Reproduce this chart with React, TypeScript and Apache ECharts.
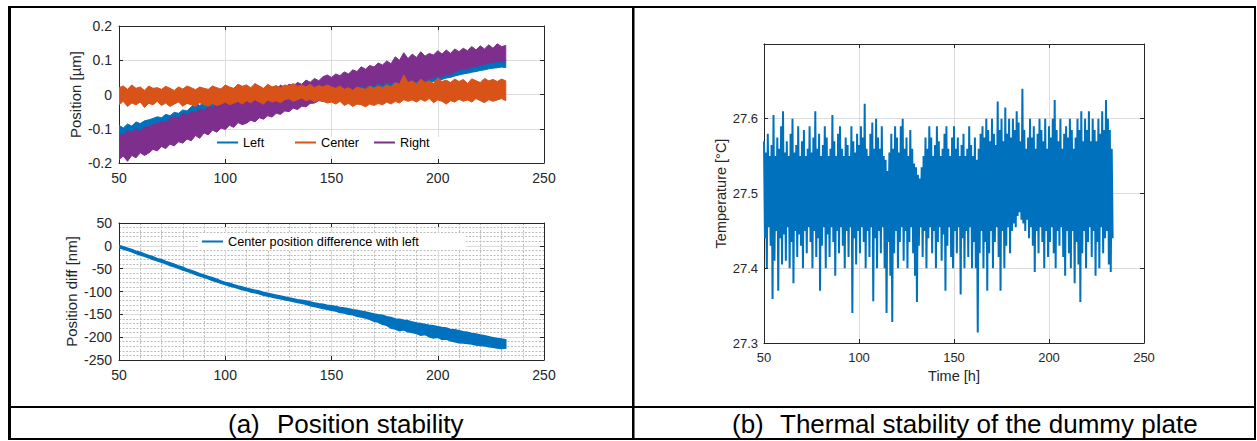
import React, { useEffect, useRef } from "react";
import * as echarts from "echarts";

// ---------- data ----------
const POS_START = 50; // hours
const POS_STEP = 2; // hours between envelope samples
const TEMP_START = 50;
const TEMP_STEP = 1;

const xTicks = [50, 100, 150, 200, 250];

// Position [µm], upper / lower envelope every 2 h from 50 h
const leftHi = [
  -0.09, -0.098, -0.086, -0.092, -0.08, -0.085, -0.077, -0.074, -0.07, -0.065,
  -0.068, -0.058, -0.062, -0.052, -0.055, -0.045, -0.048, -0.036, -0.025, -0.032,
  -0.024, -0.028, -0.02, -0.022, -0.014, -0.018, -0.01, -0.012, -0.004, -0.006,
  0.0, -0.002, 0.006, 0.004, 0.01, 0.008, 0.014, 0.012, 0.018, 0.016,
  0.022, 0.02, 0.026, 0.024, 0.03, 0.028, 0.034, 0.032, 0.038, 0.036,
  0.042, 0.04, 0.046, 0.044, 0.05, 0.048, 0.054, 0.052, 0.058, 0.056,
  0.06, 0.058, 0.063, 0.061, 0.065, 0.063, 0.067, 0.065, 0.069, 0.067,
  0.071, 0.069, 0.073, 0.072, 0.076, 0.078, 0.082, 0.08, 0.085, 0.083,
  0.088, 0.087, 0.091, 0.089, 0.094, 0.092, 0.096, 0.095, 0.099, 0.097,
  0.101, 0.1,
];
const leftLo = [
  -0.155, -0.148, -0.152, -0.14, -0.145, -0.135, -0.138, -0.13, -0.126, -0.12,
  -0.122, -0.114, -0.116, -0.108, -0.11, -0.1, -0.102, -0.094, -0.096, -0.088,
  -0.09, -0.082, -0.084, -0.075, -0.077, -0.07, -0.072, -0.064, -0.066, -0.058,
  -0.06, -0.052, -0.054, -0.046, -0.048, -0.04, -0.042, -0.034, -0.036, -0.028,
  -0.03, -0.022, -0.024, -0.016, -0.018, -0.01, -0.012, -0.005, -0.006, 0.0,
  -0.002, 0.004, 0.002, 0.008, 0.006, 0.012, 0.01, 0.015, 0.013, 0.018,
  0.016, 0.02, 0.019, 0.023, 0.022, 0.025, 0.024, 0.027, 0.026, 0.029,
  0.03, 0.032, 0.031, 0.034, 0.038, 0.042, 0.044, 0.048, 0.05, 0.054,
  0.057, 0.06, 0.062, 0.065, 0.067, 0.07, 0.072, 0.075, 0.077, 0.078,
  0.08, 0.079,
];
const centerHi = [
  0.02, 0.025, 0.015, 0.028, 0.018, 0.022, 0.012, 0.025, 0.018, 0.02,
  0.015, 0.024, 0.018, 0.012, 0.022, 0.016, 0.025, 0.02, 0.014, 0.022,
  0.018, 0.015, 0.025, 0.02, 0.016, 0.028, 0.022, 0.018, 0.03, 0.024,
  0.028, 0.02, 0.032, 0.025, 0.018, 0.03, 0.022, 0.026, 0.02, 0.028,
  0.025, 0.032, 0.024, 0.028, 0.022, 0.03, 0.02, 0.026, 0.022, 0.028,
  0.022, 0.018, 0.025, 0.015, 0.02, 0.012, 0.022, 0.018, 0.015, 0.024,
  0.018, 0.025, 0.02, 0.028, 0.022, 0.035, 0.03, 0.057, 0.035, 0.04,
  0.03, 0.045, 0.035, 0.04, 0.032, 0.048, 0.038, 0.042, 0.035, 0.045,
  0.038, 0.044, 0.032, 0.046, 0.04, 0.035, 0.047, 0.04, 0.044, 0.038,
  0.045, 0.04,
];
const centerLo = [
  -0.03, -0.02, -0.035, -0.025, -0.03, -0.022, -0.038, -0.026, -0.03, -0.02,
  -0.032, -0.025, -0.035, -0.028, -0.022, -0.034, -0.026, -0.03, -0.036, -0.024,
  -0.03, -0.034, -0.026, -0.032, -0.028, -0.022, -0.03, -0.025, -0.02, -0.028,
  -0.018, -0.024, -0.015, -0.022, -0.028, -0.016, -0.022, -0.018, -0.024, -0.015,
  -0.012, -0.02, -0.015, -0.01, -0.018, -0.014, -0.022, -0.016, -0.02, -0.025,
  -0.022, -0.028, -0.02, -0.032, -0.026, -0.035, -0.028, -0.03, -0.036, -0.028,
  -0.032, -0.026, -0.03, -0.022, -0.028, -0.02, -0.025, -0.015, -0.02, -0.016,
  -0.022, -0.014, -0.02, -0.012, -0.024, -0.016, -0.02, -0.028, -0.018, -0.022,
  -0.014, -0.02, -0.016, -0.022, -0.012, -0.018, -0.024, -0.015, -0.02, -0.016,
  -0.012, -0.018,
];
const rightHi = [
  -0.113, -0.12, -0.105, -0.112, -0.1, -0.108, -0.095, -0.094, -0.088, -0.085,
  -0.078, -0.082, -0.07, -0.065, -0.068, -0.055, -0.06, -0.05, -0.052, -0.042,
  -0.045, -0.035, -0.038, -0.028, -0.03, -0.02, -0.022, -0.012, -0.015, -0.005,
  0.008, -0.002, 0.01, 0.004, 0.014, 0.008, 0.018, 0.012, 0.028, 0.02,
  0.03, 0.025, 0.035, 0.03, 0.042, 0.036, 0.047, 0.04, 0.052, 0.057,
  0.05, 0.06, 0.055, 0.066, 0.06, 0.072, 0.067, 0.081, 0.074, 0.085,
  0.08, 0.092, 0.086, 0.098, 0.09, 0.11, 0.1, 0.122, 0.105, 0.118,
  0.108, 0.125, 0.112, 0.12, 0.115, 0.128, 0.118, 0.13, 0.12, 0.133,
  0.125, 0.135, 0.128, 0.14, 0.13, 0.142, 0.133, 0.145, 0.135, 0.148,
  0.14, 0.143,
];
const rightLo = [
  -0.19, -0.18, -0.195, -0.178, -0.185, -0.17, -0.178, -0.171, -0.16, -0.165,
  -0.152, -0.158, -0.145, -0.15, -0.138, -0.142, -0.13, -0.135, -0.12, -0.128,
  -0.112, -0.118, -0.104, -0.11, -0.098, -0.102, -0.09, -0.096, -0.082, -0.088,
  -0.084, -0.075, -0.08, -0.068, -0.072, -0.062, -0.066, -0.055, -0.058, -0.048,
  -0.05, -0.04, -0.044, -0.034, -0.036, -0.026, -0.025, -0.018, -0.02, -0.01,
  -0.008, 0.0, -0.004, 0.008, 0.004, 0.015, 0.01, 0.028, 0.02, 0.03,
  0.025, 0.034, 0.028, 0.036, 0.032, 0.037, 0.034, 0.04, 0.036, 0.042,
  0.038, 0.044, 0.04, 0.046, 0.048, 0.055, 0.052, 0.06, 0.058, 0.066,
  0.07, 0.076, 0.074, 0.08, 0.082, 0.086, 0.088, 0.092, 0.094, 0.096,
  0.095, 0.098,
];

// Position diff [nm], envelope every 2 h from 50 h
const diffHi = [
  1, -2, -5, -8, -12, -14, -18, -21, -24, -28,
  -30, -34, -37, -40, -44, -47, -51, -54, -57, -61,
  -64, -67, -70, -73, -77, -80, -82, -85, -88, -90,
  -93, -95, -97, -99, -102, -104, -106, -108, -110, -112,
  -114, -116, -118, -119, -121, -123, -125, -127, -128, -130,
  -131, -133, -135, -136, -138, -140, -141, -143, -145, -147,
  -149, -151, -152, -155, -157, -160, -161, -163, -164, -167,
  -169, -170, -172, -174, -175, -177, -179, -180, -183, -184,
  -186, -188, -189, -192, -193, -195, -197, -199, -201, -203,
  -204, -206,
];
const diffLo = [
  -4, -7, -10, -13, -17, -20, -23, -26, -30, -33,
  -36, -39, -43, -46, -49, -53, -56, -59, -63, -66,
  -69, -72, -76, -79, -82, -85, -88, -90, -93, -96,
  -98, -101, -103, -105, -108, -110, -112, -114, -116, -118,
  -120, -122, -124, -126, -128, -131, -133, -135, -137, -139,
  -141, -143, -146, -147, -150, -151, -154, -156, -158, -161,
  -165, -167, -172, -174, -180, -182, -186, -184, -188, -190,
  -192, -196, -194, -199, -202, -200, -205, -204, -208, -210,
  -212, -213, -214, -215, -217, -218, -219, -221, -222, -224,
  -225, -224,
];

// Temperature [°C], envelope every 1 h from 50 h
const tempHi = [
  27.57, 27.555, 27.58, 27.55, 27.565, 27.605, 27.55, 27.575, 27.56, 27.59,
  27.61, 27.555, 27.57, 27.55, 27.58, 27.6, 27.555, 27.565, 27.59, 27.55,
  27.57, 27.585, 27.55, 27.56, 27.59, 27.555, 27.575, 27.61, 27.56, 27.58,
  27.55, 27.565, 27.59, 27.575, 27.55, 27.56, 27.605, 27.57, 27.55, 27.58,
  27.59, 27.56, 27.55, 27.575, 27.565, 27.55, 27.59, 27.57, 27.555, 27.58,
  27.565, 27.59, 27.575, 27.62, 27.56, 27.55, 27.58, 27.595, 27.56, 27.6,
  27.575, 27.56, 27.59, 27.55, 27.545, 27.53, 27.555, 27.58, 27.56, 27.59,
  27.575, 27.555, 27.59, 27.6, 27.56, 27.575, 27.55, 27.585, 27.56, 27.54,
  27.535, 27.525, 27.52, 27.535, 27.55, 27.575, 27.56, 27.59, 27.575, 27.55,
  27.565, 27.59, 27.57, 27.55, 27.56, 27.58, 27.59, 27.56, 27.55, 27.575,
  27.59, 27.56, 27.575, 27.55, 27.565, 27.58, 27.55, 27.56, 27.59, 27.565,
  27.55, 27.575, 27.545, 27.56, 27.58, 27.59, 27.575, 27.6, 27.585, 27.57,
  27.6, 27.58, 27.565, 27.623, 27.585, 27.6, 27.57, 27.615, 27.58, 27.6,
  27.575, 27.6, 27.585, 27.61, 27.595, 27.57, 27.64, 27.585, 27.56, 27.575,
  27.6, 27.575, 27.59, 27.56, 27.58, 27.6, 27.585, 27.57, 27.6, 27.56,
  27.59, 27.575, 27.6, 27.625, 27.585, 27.57, 27.6, 27.56, 27.58, 27.59,
  27.575, 27.6, 27.585, 27.56, 27.575, 27.6, 27.585, 27.61, 27.57, 27.6,
  27.585, 27.61, 27.57, 27.6, 27.585, 27.57, 27.6, 27.58, 27.61, 27.585,
  27.625, 27.6, 27.585, 27.56,
];
const tempLo = [
  27.44, 27.4, 27.455, 27.43, 27.359, 27.41, 27.45, 27.37, 27.44, 27.405,
  27.445, 27.41, 27.455, 27.4, 27.435, 27.38, 27.45, 27.415, 27.445, 27.43,
  27.4, 27.45, 27.42, 27.455, 27.435, 27.4, 27.45, 27.415, 27.44, 27.37,
  27.43, 27.455, 27.4, 27.445, 27.415, 27.455, 27.435, 27.39, 27.45, 27.42,
  27.455, 27.43, 27.4, 27.45, 27.415, 27.455, 27.34, 27.44, 27.405, 27.45,
  27.42, 27.455, 27.435, 27.4, 27.45, 27.415, 27.455, 27.356, 27.44, 27.4,
  27.45, 27.42, 27.455, 27.4, 27.34, 27.435, 27.39, 27.328, 27.42, 27.45,
  27.4, 27.435, 27.455, 27.41, 27.45, 27.4, 27.435, 27.455, 27.42, 27.39,
  27.355, 27.43, 27.455, 27.415, 27.45, 27.4, 27.44, 27.455, 27.42, 27.45,
  27.4, 27.435, 27.455, 27.41, 27.445, 27.37, 27.43, 27.455, 27.415, 27.4,
  27.45, 27.42, 27.455, 27.365, 27.44, 27.4, 27.45, 27.415, 27.455, 27.4,
  27.435, 27.4, 27.314, 27.42, 27.45, 27.4, 27.435, 27.37, 27.42, 27.45,
  27.4, 27.435, 27.455, 27.415, 27.37, 27.45, 27.4, 27.43, 27.455, 27.42,
  27.45, 27.46, 27.455, 27.47, 27.475, 27.465, 27.46, 27.45, 27.465, 27.44,
  27.455, 27.43, 27.395, 27.45, 27.42, 27.455, 27.435, 27.4, 27.45, 27.415,
  27.435, 27.455, 27.42, 27.4, 27.45, 27.43, 27.455, 27.415, 27.39, 27.45,
  27.42, 27.4, 27.45, 27.38, 27.435, 27.405, 27.355, 27.42, 27.45, 27.4,
  27.435, 27.455, 27.415, 27.45, 27.39, 27.435, 27.4, 27.455, 27.42, 27.44,
  27.45, 27.405, 27.395, 27.44,
];

const SERIES_NAMES = ["Left", "Center", "Right"];
const DIFF_NAME = "Center position difference with left";

// ---------- styling ----------
const FONT = "'Liberation Sans', Arial, Helvetica, sans-serif";
const AXIS_COLOR = "#262626";
const GRID_COLOR = "#dcdcdc";
const C_BLUE = "#0072BD";
const C_ORANGE = "#D95319";
const C_PURPLE = "#7E2F8E";

function zigzag(start: number, step: number, hi: number[], lo: number[]) {
  const out: [number, number][] = [];
  for (let i = 0; i < hi.length; i++) {
    const x = start + i * step;
    out.push([x, hi[i]]);
    out.push([x + step / 2, lo[i]]);
  }
  return out;
}

// filled band between the lower and upper envelope, placed through the axes' scales
function band(
  name: string, color: string, xi: number, yi: number,
  start: number, step: number, hi: number[], lo: number[], edge: number
) {
  const pts = hi.map((v, i) => [start + i * step, v, lo[i]]);
  return {
    name, type: "custom", xAxisIndex: xi, yAxisIndex: yi,
    data: pts, encode: { x: 0, y: [1, 2] }, clip: true, silent: true,
    itemStyle: { color },
    renderItem: (params: any, api: any) => {
      if (params.dataIndex !== 0) return null;
      const top = pts.map((p) => api.coord([p[0], p[1]]));
      const bottom = pts.slice().reverse().map((p) => api.coord([p[0], p[2]]));
      return {
        type: "polygon",
        shape: { points: top.concat(bottom) },
        style: { fill: color, stroke: color, lineWidth: edge, lineJoin: "miter" },
      };
    },
  };
}

function mainAxis(grid: number, fs: number, extra: any = {}) {
  return {
    type: "value",
    gridIndex: grid,
    axisLine: { show: true, onZero: false, lineStyle: { color: AXIS_COLOR, width: 1 } },
    axisTick: { show: true, inside: true, length: 4, lineStyle: { color: AXIS_COLOR } },
    axisLabel: { color: AXIS_COLOR, fontSize: fs, fontFamily: FONT, margin: 8 },
    splitLine: { show: true, lineStyle: { color: GRID_COLOR, width: 1 } },
    ...extra,
  };
}
function mirrorAxis(grid: number, position: string, extra: any = {}) {
  return {
    type: "value",
    gridIndex: grid,
    position,
    axisLine: { show: true, onZero: false, lineStyle: { color: AXIS_COLOR, width: 1 } },
    axisTick: { show: true, inside: true, length: 4, lineStyle: { color: AXIS_COLOR } },
    axisLabel: { show: false },
    splitLine: { show: false },
    ...extra,
  };
}

const xRange = { min: xTicks[0], max: xTicks[xTicks.length - 1], interval: xTicks[1] - xTicks[0] };

export default function App() {
  const ref = useRef<HTMLDivElement>(null);
  useEffect(() => {
    if (!ref.current) return;
    const chart = echarts.init(ref.current, undefined, { renderer: "svg" });
    const posY = { min: -0.2, max: 0.2, interval: 0.1 };
    const diffY = { min: -250, max: 50, interval: 50 };
    const tempY = { min: 27.3, max: 27.7, interval: 0.1 };
    const fmt1 = (v: number) => String(Math.round(v * 10) / 10);
    const dottedMinor = {
      show: true,
      lineStyle: { color: "#bdbdbd", width: 1, type: [2, 1.5] },
    };

    const legendText = { color: "#000", fontSize: 12.7, fontFamily: FONT };
    const option: any = {
      animation: false,
      backgroundColor: "#fff",
      grid: [
        { left: 119, top: 26, width: 425, height: 137 },
        { left: 119, top: 223, width: 425, height: 137 },
        { left: 764, top: 44, width: 380, height: 299 },
      ],
      xAxis: [
        mainAxis(0, 14, { ...xRange }),
        mirrorAxis(0, "top", { ...xRange }),
        mainAxis(1, 14, {
          ...xRange,
          minorTick: { show: false, splitNumber: 5 },
          minorSplitLine: dottedMinor,
        }),
        mirrorAxis(1, "top", { ...xRange }),
        mainAxis(2, 13, {
          ...xRange,
          name: "Time [h]",
          nameLocation: "middle",
          nameGap: 22,
          nameTextStyle: { color: AXIS_COLOR, fontSize: 14.5, fontFamily: FONT },
        }),
        mirrorAxis(2, "top", { ...xRange }),
      ],
      yAxis: [
        mainAxis(0, 14, {
          ...posY,
          name: "Position [µm]",
          nameLocation: "middle",
          nameGap: 36,
          nameTextStyle: { color: AXIS_COLOR, fontSize: 15, fontFamily: FONT },
          axisLabel: { color: AXIS_COLOR, fontSize: 14, fontFamily: FONT, margin: 7, formatter: fmt1 },
        }),
        mirrorAxis(0, "right", { ...posY }),
        mainAxis(1, 14, {
          ...diffY,
          name: "Position diff [nm]",
          nameLocation: "middle",
          nameGap: 40,
          nameTextStyle: { color: AXIS_COLOR, fontSize: 15, fontFamily: FONT },
          axisLabel: { color: AXIS_COLOR, fontSize: 14, fontFamily: FONT, margin: 7 },
          minorTick: { show: false, splitNumber: 5 },
          minorSplitLine: dottedMinor,
        }),
        mirrorAxis(1, "right", { ...diffY }),
        mainAxis(2, 13, {
          ...tempY,
          name: "Temperature [°C]",
          nameLocation: "middle",
          nameGap: 36,
          nameTextStyle: { color: AXIS_COLOR, fontSize: 14.5, fontFamily: FONT },
          axisLabel: {
            color: AXIS_COLOR,
            fontSize: 13,
            fontFamily: FONT,
            margin: 6,
            showMaxLabel: false,
            formatter: (v: number) => v.toFixed(1),
          },
        }),
        mirrorAxis(2, "right", { ...tempY }),
      ],
      legend: [
        {
          data: [SERIES_NAMES[0]], left: 217, top: 136, padding: 0, icon: "rect",
          itemWidth: 21, itemHeight: 2, textStyle: legendText, selectedMode: false,
        },
        {
          data: [SERIES_NAMES[1]], left: 295, top: 136, padding: 0, icon: "rect",
          itemWidth: 21, itemHeight: 2, textStyle: legendText, selectedMode: false,
        },
        {
          data: [SERIES_NAMES[2]], left: 374, top: 136, padding: 0, icon: "rect",
          itemWidth: 21, itemHeight: 2, textStyle: legendText, selectedMode: false,
        },
        {
          data: [DIFF_NAME], left: 198, top: 233, padding: [2, 47, 2, 4], icon: "rect",
          itemWidth: 21, itemHeight: 2, textStyle: legendText, selectedMode: false,
          backgroundColor: "#fff",
        },
      ],
      series: [
        band(SERIES_NAMES[0], C_BLUE, 0, 0, POS_START, POS_STEP, leftHi, leftLo, 1),
        band(SERIES_NAMES[2], C_PURPLE, 0, 0, POS_START, POS_STEP, rightHi, rightLo, 1),
        band(SERIES_NAMES[1], C_ORANGE, 0, 0, POS_START, POS_STEP, centerHi, centerLo, 1),
        band(DIFF_NAME, C_BLUE, 2, 2, POS_START, POS_STEP, diffHi, diffLo, 1.5),
        {
          name: "Temperature", type: "line", xAxisIndex: 4, yAxisIndex: 4,
          data: zigzag(TEMP_START, TEMP_STEP, tempHi, tempLo),
          showSymbol: false, symbol: "none", color: C_BLUE, silent: true,
          lineStyle: { color: C_BLUE, width: 2, join: "miter" },
        },
      ],
      graphic: [
        // white backing of the top-left legend
        { type: "rect", z: 3, shape: { x: 208, y: 137, width: 234, height: 19 }, style: { fill: "#fff" } },
        // table borders
        { type: "rect", z: 10, shape: { x: 8, y: 6, width: 1248, height: 2 }, style: { fill: "#000" } },
        { type: "rect", z: 10, shape: { x: 8, y: 438, width: 1248, height: 2 }, style: { fill: "#000" } },
        { type: "rect", z: 10, shape: { x: 8, y: 6, width: 3, height: 434 }, style: { fill: "#000" } },
        { type: "rect", z: 10, shape: { x: 1254, y: 6, width: 2, height: 434 }, style: { fill: "#000" } },
        { type: "rect", z: 10, shape: { x: 632, y: 6, width: 2.5, height: 434 }, style: { fill: "#000" } },
        { type: "rect", z: 10, shape: { x: 8, y: 406, width: 1248, height: 2 }, style: { fill: "#000" } },
        // captions
        {
          type: "text", z: 10, x: 228, y: 424,
          style: { text: "(a)", fontSize: 26, fontFamily: FONT, fill: "#000", verticalAlign: "middle" },
        },
        {
          type: "text", z: 10, x: 277, y: 424,
          style: { text: "Position stability", fontSize: 26, fontFamily: FONT, fill: "#000", verticalAlign: "middle" },
        },
        {
          type: "text", z: 10, x: 732, y: 424,
          style: { text: "(b)", fontSize: 26, fontFamily: FONT, fill: "#000", verticalAlign: "middle" },
        },
        {
          type: "text", z: 10, x: 780, y: 424,
          style: { text: "Thermal stability of the dummy plate", fontSize: 26, fontFamily: FONT, fill: "#000", verticalAlign: "middle" },
        },
      ],
    };
    chart.setOption(option);
    return () => chart.dispose();
  }, []);
  return (
    <div
      ref={ref}
      style={{ position: "fixed", left: 0, top: 0, width: 1257, height: 441, background: "#fff" }}
    />
  );
}
